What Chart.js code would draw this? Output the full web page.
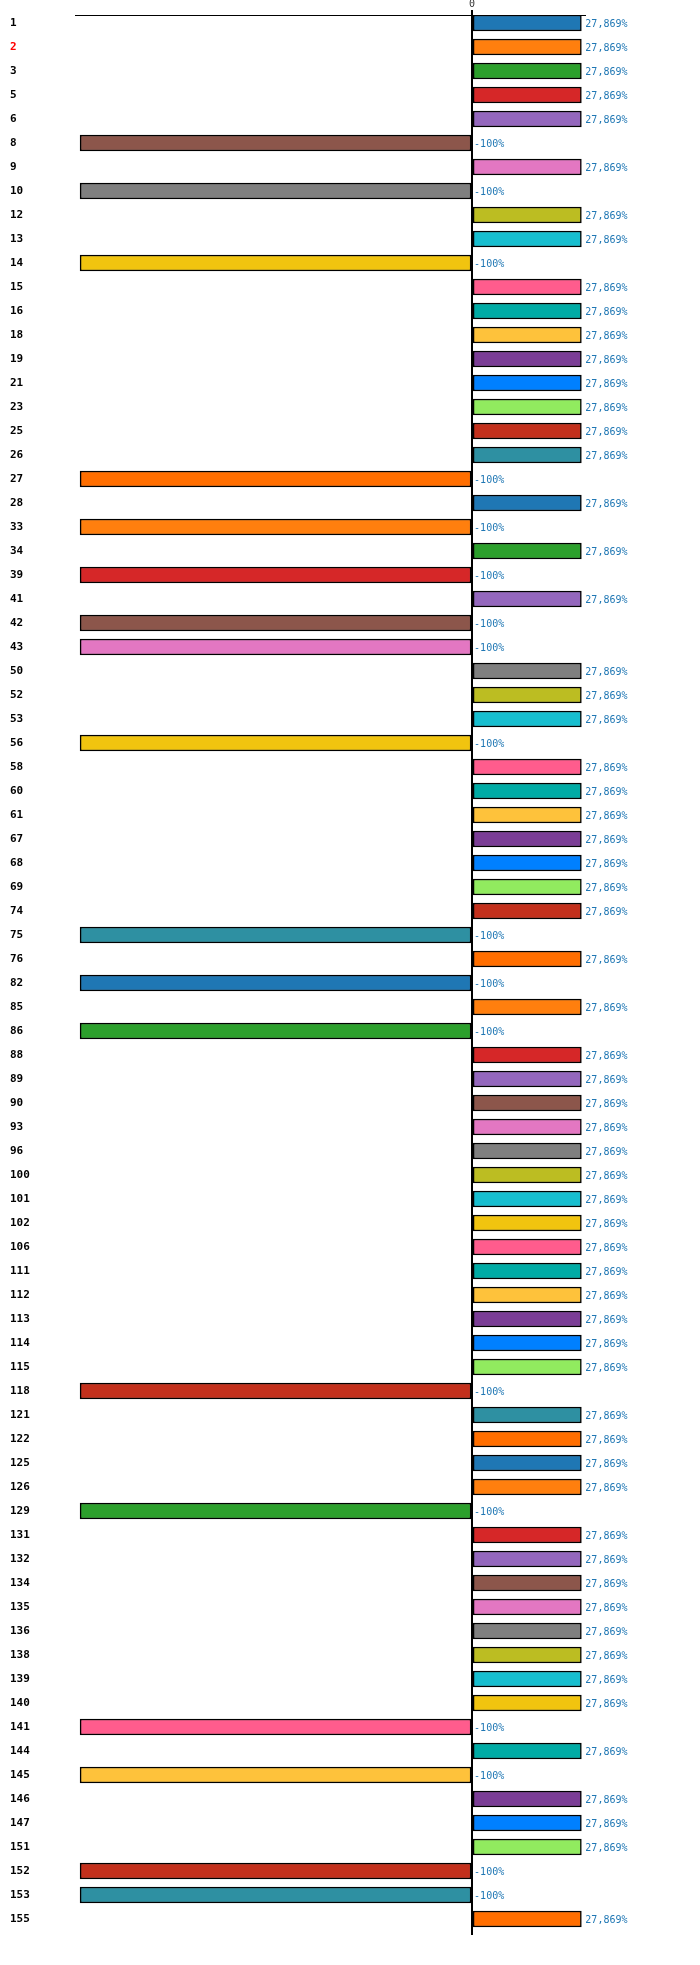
<!DOCTYPE html>
<html>
<head>
<meta charset="utf-8">
<script src="https://cdn.jsdelivr.net/npm/chart.js@4.4.1/dist/chart.umd.min.js"></script>
<style>
    html, body { margin: 0; padding: 0; background: #ffffff; }
    #wrap { width: 700px; height: 1965px; }
</style>
</head>
<body>
<div id="wrap"><canvas id="bar-chart" width="700" height="1965"></canvas></div>
<script>
// Category ids as shown on the left axis
const categories = [
    '1', '2', '3', '5', '6', '8', '9', '10', '12', '13',
    '14', '15', '16', '18', '19', '21', '23', '25', '26', '27',
    '28', '33', '34', '39', '41', '42', '43', '50', '52', '53',
    '56', '58', '60', '61', '67', '68', '69', '74', '75', '76',
    '82', '85', '86', '88', '89', '90', '93', '96', '100', '101',
    '102', '106', '111', '112', '113', '114', '115', '118', '121', '122',
    '125', '126', '129', '131', '132', '134', '135', '136', '138', '139',
    '140', '141', '144', '145', '146', '147', '151', '152', '153', '155'
];

// Percent change per category
const values = [
    27.869, 27.869, 27.869, 27.869, 27.869, -100, 27.869, -100, 27.869, 27.869,
    -100, 27.869, 27.869, 27.869, 27.869, 27.869, 27.869, 27.869, 27.869, -100,
    27.869, -100, 27.869, -100, 27.869, -100, -100, 27.869, 27.869, 27.869,
    -100, 27.869, 27.869, 27.869, 27.869, 27.869, 27.869, 27.869, -100, 27.869,
    -100, 27.869, -100, 27.869, 27.869, 27.869, 27.869, 27.869, 27.869, 27.869,
    27.869, 27.869, 27.869, 27.869, 27.869, 27.869, 27.869, -100, 27.869, 27.869,
    27.869, 27.869, -100, 27.869, 27.869, 27.869, 27.869, 27.869, 27.869, 27.869,
    27.869, -100, 27.869, -100, 27.869, 27.869, 27.869, -100, -100, 27.869
];

// Only the zero tick is labelled on the top axis
const xTicks = [0];

// 20-colour cycle used for the bars
const palette = [
    '#1f77b4', '#ff7f0e', '#2ca02c', '#d62728', '#9467bd',
    '#8c564b', '#e377c2', '#7f7f7f', '#bcbd22', '#17becf',
    '#f1c40f', '#ff5c8d', '#00aba5', '#fec23b', '#7b3d96',
    '#0080ff', '#91eb5f', '#c3301c', '#2e90a2', '#ff6e00'
];

const highlighted = ['2'];

function formatPct(v) {
    return String(v).replace('.', ',') + '%';
}

// Draws the value text next to each bar
const valueLabels = {
    id: 'valueLabels',
    afterDatasetsDraw(chart) {
        const ctx = chart.ctx;
        const meta = chart.getDatasetMeta(0);
        ctx.save();
        ctx.font = '10px "DejaVu Sans Mono"';
        ctx.fillStyle = '#1f77b4';
        ctx.textBaseline = 'middle';
        ctx.textAlign = 'left';
        meta.data.forEach((bar, i) => {
            const v = values[i];
            const x = v >= 0 ? bar.x + 4 : bar.base + 3;
            ctx.fillText(formatPct(v), x, bar.y + 1);
        });
        ctx.restore();
    }
};

const ctx = document.getElementById('bar-chart').getContext('2d');
new Chart(ctx, {
    type: 'bar',
    data: {
        datasets: [{
            data: values.map((v, i) => ({ x: v, y: i })),
            backgroundColor: categories.map((c, i) => palette[i % palette.length]),
            borderColor: '#000000',
            borderWidth: 1.5,
            borderSkipped: false,
            barThickness: 16
        }]
    },
    options: {
        indexAxis: 'y',
        responsive: false,
        animation: false,
        devicePixelRatio: 1,
        layout: {
            padding: { left: 10, right: 115, top: 0, bottom: 30 }
        },
        plugins: {
            legend: { display: false },
            tooltip: { enabled: false }
        },
        scales: {
            x: {
                type: 'linear',
                position: 'top',
                min: -101.3,
                max: 28.8,
                afterBuildTicks: function(scale) {
                    scale.ticks = xTicks.map(v => ({ value: v }));
                },
                afterFit: function(scale) { scale.height = 15; },
                border: { display: true, color: '#000000', width: 1 },
                grid: {
                    display: true,
                    color: '#000000',
                    lineWidth: 2,
                    drawTicks: true,
                    tickLength: 5,
                    tickColor: '#000000',
                    tickWidth: 2
                },
                ticks: {
                    padding: 0,
                    color: '#333333',
                    font: { family: 'DejaVu Sans Mono', size: 10 },
                    callback: function(value) { return String(value); }
                }
            },
            y: {
                type: 'linear',
                reverse: true,
                offset: false,
                // a third of a row above the first bar, as in the reference layout
                min: -1 / 3,
                max: categories.length - 1 / 3,
                afterBuildTicks: function(scale) {
                    scale.ticks = categories.map((c, i) => ({ value: i }));
                },
                afterFit: function(scale) { scale.width = 65; },
                border: { display: false },
                grid: { display: false, drawTicks: false, offset: false },
                ticks: {
                    crossAlign: 'far',
                    padding: 0,
                    autoSkip: false,
                    font: { family: 'DejaVu Sans Mono', size: 11, weight: 'bold' },
                    callback: function(value) { return categories[value]; },
                    color: function(c) {
                        return highlighted.includes(categories[c.tick.value]) ? '#ff0000' : '#000000';
                    }
                }
            }
        }
    },
    plugins: [valueLabels]
});
</script>
</body>
</html>
